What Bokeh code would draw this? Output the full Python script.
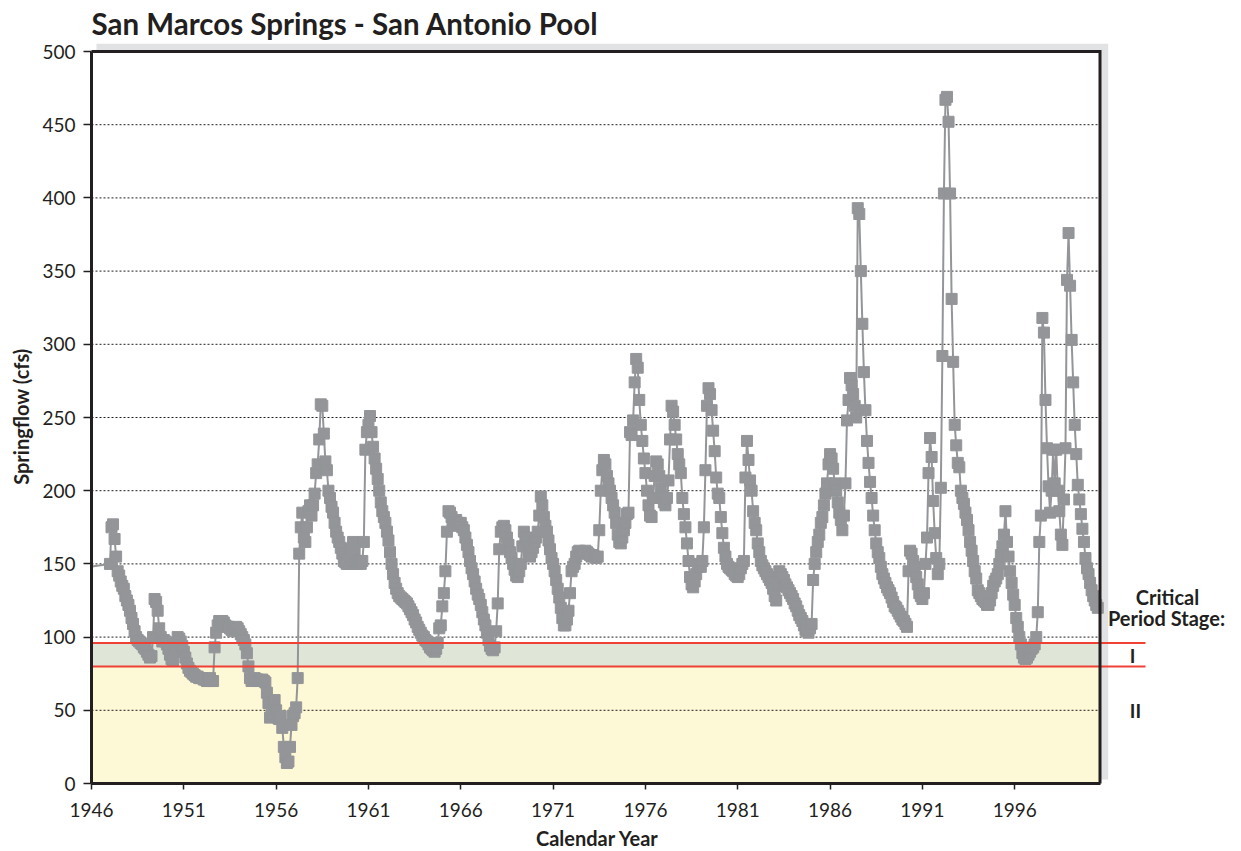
import math
from bokeh.plotting import figure
from bokeh.models import ColumnDataSource, Range1d, FixedTicker
from bokeh.core.properties import value
from bokeh.embed import file_html
from bokeh.resources import INLINE

# ---------------- data (monthly springflow, cfs) ----------------
flow_1945_dec = [148]
flow_1947 = [150, 175, 177, 167, 155, 145, 142, 138, 135, 133, 128, 125]
flow_1948 = [122, 118, 113, 109, 104, 100, 98, 97, 96, 95, 93, 92]
flow_1949 = [90, 88, 86, 87, 100, 126, 124, 118, 106, 100, 97, 98]
flow_1950 = [97, 95, 92, 88, 85, 84, 90, 96, 100, 99, 97, 94]
flow_1951 = [90, 86, 82, 79, 77, 76, 75, 74, 73, 73, 72, 72]
flow_1952 = [72, 71, 71, 70, 70, 72, 70, 70, 93, 103, 108, 111]
flow_1953 = [110, 111, 110, 108, 107, 107, 106, 105, 104, 106, 107, 106]
flow_1954 = [104, 102, 100, 98, 95, 89, 80, 72, 70, 71, 72, 71]
flow_1955 = [71, 70, 70, 71, 70, 69, 62, 55, 45, 47, 55, 57]
flow_1956 = [50, 45, 44, 46, 38, 25, 18, 14, 15, 25, 40, 46]
flow_1957 = [48, 52, 72, 157, 175, 185, 168, 165, 175, 186, 190, 183]
flow_1958 = [190, 198, 212, 218, 235, 259, 258, 239, 220, 214, 200, 195]
flow_1959 = [189, 185, 178, 172, 168, 165, 161, 157, 152, 151, 150, 150]
flow_1960 = [155, 160, 165, 158, 152, 150, 151, 150, 152, 165, 228, 240]
flow_1961 = [245, 251, 240, 230, 222, 215, 208, 200, 192, 186, 182, 178]
flow_1962 = [172, 166, 158, 150, 143, 137, 133, 130, 128, 127, 126, 125]
flow_1963 = [124, 123, 121, 119, 117, 115, 112, 110, 107, 105, 103, 101]
flow_1964 = [100, 98, 97, 95, 93, 92, 91, 90, 92, 96, 106, 108]
flow_1965 = [121, 130, 145, 172, 186, 185, 182, 178, 176, 180, 178, 178]
flow_1966 = [178, 175, 173, 168, 163, 158, 152, 147, 143, 138, 133, 129]
flow_1967 = [126, 122, 117, 112, 108, 103, 98, 94, 92, 91, 93, 104]
flow_1968 = [123, 160, 172, 175, 176, 173, 168, 163, 158, 154, 150, 146]
flow_1969 = [142, 141, 145, 150, 162, 172, 168, 162, 158, 155, 158, 161]
flow_1970 = [165, 168, 172, 183, 196, 190, 182, 176, 172, 166, 160, 154]
flow_1971 = [150, 145, 139, 133, 127, 120, 113, 108, 108, 112, 118, 130]
flow_1972 = [145, 148, 150, 155, 158, 159, 158, 157, 158, 159, 158, 157]
flow_1973 = [156, 155, 156, 155, 154, 155, 173, 200, 214, 221, 218, 210]
flow_1974 = [205, 200, 195, 190, 185, 178, 170, 165, 164, 168, 173, 178]
flow_1975 = [184, 185, 240, 238, 248, 274, 290, 284, 262, 245, 234, 222]
flow_1976 = [212, 200, 190, 183, 182, 195, 210, 220, 218, 210, 202, 196]
flow_1977 = [192, 190, 195, 207, 235, 258, 254, 245, 235, 225, 218, 212]
flow_1978 = [195, 184, 175, 164, 152, 141, 136, 134, 138, 143, 148, 150]
flow_1979 = [148, 152, 175, 214, 258, 270, 266, 255, 241, 227, 209, 198]
flow_1980 = [195, 182, 171, 161, 155, 150, 148, 147, 146, 145, 143, 142]
flow_1981 = [141, 143, 147, 150, 152, 209, 234, 221, 207, 200, 186, 178]
flow_1982 = [173, 164, 158, 152, 149, 147, 145, 143, 141, 139, 137, 133]
flow_1983 = [128, 125, 135, 145, 143, 141, 139, 136, 134, 132, 130, 128]
flow_1984 = [126, 123, 121, 118, 115, 113, 111, 108, 105, 104, 103, 106]
flow_1985 = [109, 139, 150, 158, 165, 170, 178, 182, 190, 198, 205, 218]
flow_1986 = [225, 222, 215, 205, 200, 192, 185, 180, 173, 183, 205, 248]
flow_1987 = [262, 277, 272, 266, 258, 250, 393, 389, 350, 314, 281, 255]
flow_1988 = [234, 219, 206, 195, 183, 173, 164, 158, 154, 148, 143, 140]
flow_1989 = [137, 134, 132, 130, 127, 124, 121, 120, 118, 116, 114, 112]
flow_1990 = [111, 109, 107, 145, 159, 157, 152, 148, 141, 136, 130, 128]
flow_1991 = [126, 130, 150, 168, 212, 236, 223, 193, 171, 154, 143, 150]
flow_1992 = [202, 292, 403, 467, 469, 452, 403, 331, 288, 245, 231, 219]
flow_1993 = [216, 200, 195, 191, 185, 180, 173, 165, 159, 152, 145, 140]
flow_1994 = [132, 130, 128, 126, 125, 124, 122, 122, 125, 130, 135, 138]
flow_1995 = [140, 143, 150, 156, 162, 170, 186, 165, 155, 145, 137, 129]
flow_1996 = [122, 113, 107, 100, 95, 89, 86, 85, 86, 88, 90, 92]
flow_1997 = [93, 95, 100, 117, 165, 183, 318, 308, 262, 229, 203, 185]
flow_1998 = [200, 228, 205, 228, 200, 186, 170, 163, 194, 229, 344, 376]
flow_1999 = [340, 303, 274, 245, 225, 204, 194, 184, 174, 165, 154, 147]
flow_2000 = [143, 137, 132, 128, 125, 122, 120]

yearly = [
    (1947, flow_1947), (1948, flow_1948), (1949, flow_1949), (1950, flow_1950),
    (1951, flow_1951), (1952, flow_1952), (1953, flow_1953), (1954, flow_1954),
    (1955, flow_1955), (1956, flow_1956), (1957, flow_1957), (1958, flow_1958),
    (1959, flow_1959), (1960, flow_1960), (1961, flow_1961), (1962, flow_1962),
    (1963, flow_1963), (1964, flow_1964), (1965, flow_1965), (1966, flow_1966),
    (1967, flow_1967), (1968, flow_1968), (1969, flow_1969), (1970, flow_1970),
    (1971, flow_1971), (1972, flow_1972), (1973, flow_1973), (1974, flow_1974),
    (1975, flow_1975), (1976, flow_1976), (1977, flow_1977), (1978, flow_1978),
    (1979, flow_1979), (1980, flow_1980), (1981, flow_1981), (1982, flow_1982),
    (1983, flow_1983), (1984, flow_1984), (1985, flow_1985), (1986, flow_1986),
    (1987, flow_1987), (1988, flow_1988), (1989, flow_1989), (1990, flow_1990),
    (1991, flow_1991), (1992, flow_1992), (1993, flow_1993), (1994, flow_1994),
    (1995, flow_1995), (1996, flow_1996), (1997, flow_1997), (1998, flow_1998),
    (1999, flow_1999), (2000, flow_2000),
]

stage_thresholds = [96, 80]          # Critical period stage I / II triggers (cfs)
stage_labels = ["I", "II"]
x_ticks = [1946, 1951, 1956, 1961, 1966, 1971, 1976, 1981, 1986, 1991, 1996]
y_ticks = [0, 50, 100, 150, 200, 250, 300, 350, 400, 450, 500]

# build monthly time axis
t = [1945 + 11 / 12.0]
q = list(flow_1945_dec)
for yr, vals in yearly:
    for m, v in enumerate(vals):
        t.append(yr + m / 12.0)
        q.append(v)

# ---------------- geometry (whole canvas is the frame) ----------------
W, H = 1240, 850
SX = 18.464          # px per year
SY = 1.464           # px per cfs
X0, X_END = 1946, 2000.62
AX_LEFT_PX = 91      # canvas x of the y axis
AX_BOT_PX = 783      # canvas y of the x axis


def px_to_x(px):
    return X0 + (px - AX_LEFT_PX) / SX


def py_to_y(py):
    return (AX_BOT_PX - py) / SY


xr = Range1d(px_to_x(0), px_to_x(W))
yr_ = Range1d(py_to_y(H), py_to_y(0))

INK = "#231f20"
GRAY = "#939598"
FONT = value("Lato")

p = figure(width=W, height=H, output_backend="svg", toolbar_location=None,
           x_range=xr, y_range=yr_, min_border=0,
           min_border_left=0, min_border_right=0, min_border_top=0,
           min_border_bottom=0)
p.outline_line_color = None
p.xgrid.visible = False
p.ygrid.visible = False
p.background_fill_color = "white"
p.border_fill_color = "white"

# drop shadow + plot area
p.quad(left=[px_to_x(96)], right=[px_to_x(1107.7)], bottom=[py_to_y(779)],
       top=[py_to_y(43.3)], fill_color="#e1e2e3", line_color=None)
p.quad(left=[X0], right=[X_END], bottom=[0], top=[500],
       fill_color="white", line_color=None)
# stage bands
p.quad(left=[X0], right=[X_END], bottom=[0], top=[stage_thresholds[1]],
       fill_color="#fdf8d6", line_color=None)
p.quad(left=[X0], right=[X_END], bottom=[stage_thresholds[1]], top=[stage_thresholds[0]],
       fill_color="#dfe5d7", line_color=None)

# dotted grid lines
grid_y = [v for v in y_ticks if 0 < v < 500]
p.segment(x0=[X0] * len(grid_y), x1=[X_END] * len(grid_y), y0=grid_y, y1=grid_y,
          line_color=INK, line_width=1, line_dash="2 2")

# data (line includes the lead-in point before the axis; markers only inside the frame)
src_line = ColumnDataSource(dict(t=t, q=q))
vis = [(ti, qi) for ti, qi in zip(t, q) if X0 <= ti <= X_END]
src_pts = ColumnDataSource(dict(t=[a for a, _ in vis], q=[b for _, b in vis]))
p.line("t", "q", source=src_line, line_color=GRAY, line_width=2)
p.scatter("t", "q", source=src_pts, marker="square", size=11,
          fill_color=GRAY, line_color=GRAY)

# stage threshold lines
red_end = px_to_x(1145)
p.segment(x0=[X0, X0], x1=[red_end, red_end], y0=stage_thresholds, y1=stage_thresholds,
          line_color="#ef4136", line_width=2)

# frame top / right
p.line([X0, X_END, X_END], [500, 500, 0], line_color=INK, line_width=3,
       line_join="miter")

# axes drawn at fixed data locations
for ax in (p.xaxis[0], p.yaxis[0]):
    ax.axis_line_color = INK
    ax.axis_line_width = 3
    ax.major_tick_line_color = INK
    ax.major_tick_line_width = 1.5
    ax.minor_tick_line_color = None
    ax.major_tick_in = 0
    ax.major_label_text_font = "Lato"
    ax.major_label_text_font_size = "19px"
    ax.major_label_text_color = INK

p.xaxis[0].fixed_location = 0
p.xaxis[0].bounds = (X0, X_END)
p.xaxis[0].ticker = FixedTicker(ticks=x_ticks)
p.xaxis[0].major_tick_out = 6
p.xaxis[0].major_label_standoff = 13

p.yaxis[0].fixed_location = X0
p.yaxis[0].bounds = (0, 500)
p.yaxis[0].ticker = FixedTicker(ticks=y_ticks)
p.yaxis[0].major_tick_out = 8
p.yaxis[0].major_label_standoff = 8

# axis titles
p.text(x=[px_to_x(597)], y=[py_to_y(837)], text=["Calendar Year"],
       text_font=FONT, text_font_style="bold", text_font_size="20px",
       text_color=INK, text_align="center", text_baseline="middle")
p.text(x=[px_to_x(20)], y=[py_to_y(416)], text=["Springflow (cfs)"], angle=math.pi / 2,
       text_font=FONT, text_font_style="bold", text_font_size="20px",
       text_color=INK, text_align="center", text_baseline="middle")

# title
p.text(x=[X0], y=[py_to_y(23)], text=["San Marcos Springs - San Antonio Pool"],
       text_font=FONT, text_font_style="bold", text_font_size="29.5px",
       text_color=INK, text_align="left", text_baseline="middle")

# stage labels
p.text(x=[px_to_x(1167), px_to_x(1166)], y=[py_to_y(596), py_to_y(617)],
       text=["Critical", "Period Stage:"],
       text_font=FONT, text_font_style="bold", text_font_size="20px",
       text_color=INK, text_align="center", text_baseline="middle")
p.text(x=[px_to_x(1132), px_to_x(1135)], y=[py_to_y(655), py_to_y(710)],
       text=stage_labels,
       text_font=FONT, text_font_style="bold", text_font_size="19px",
       text_color=INK, text_align="center", text_baseline="middle")

open("out.html", "w").write(file_html(p, INLINE))
